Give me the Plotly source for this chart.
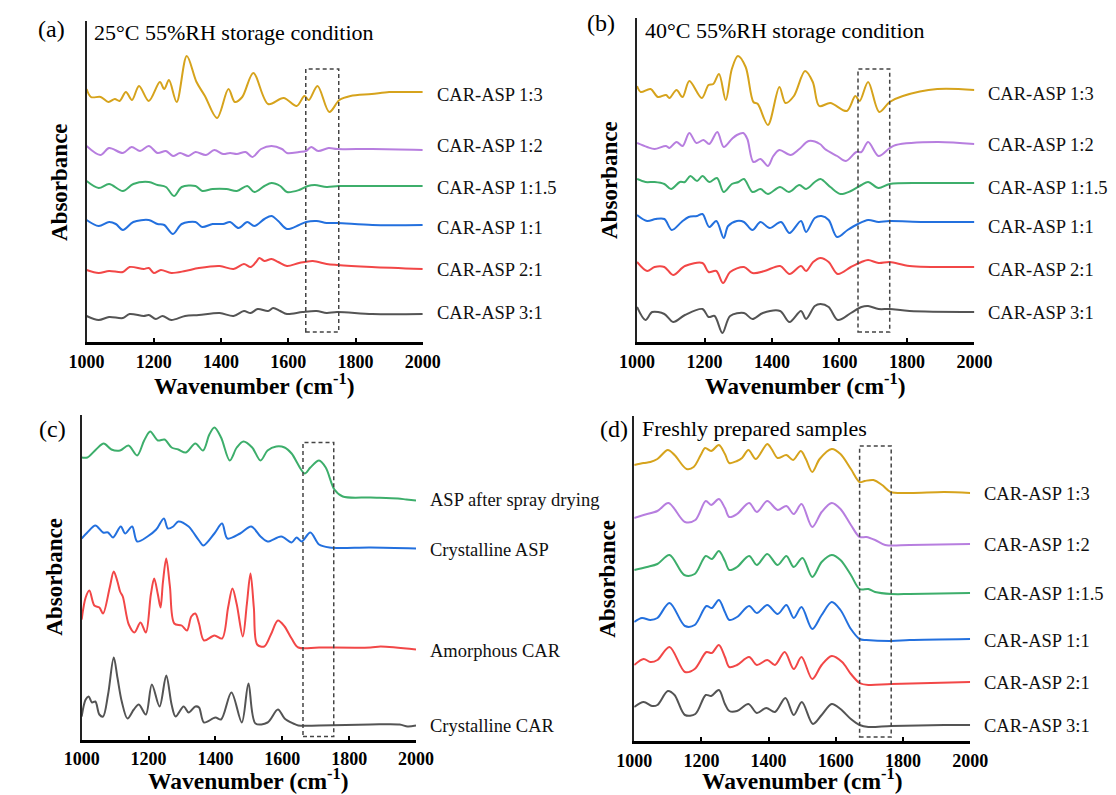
import plotly.graph_objects as go

# ---------------- data (wavenumber cm-1, relative absorbance offset) ----------------
# Panel (a) 25°C 55%RH
A_13_WN = [1000,1013,1042,1065,1084,1098,1117,1135,1156,1185,1218,1231,1245,1268,1298,1327,1352,1388,1422,1441,1463,1496,1540,1586,1625,1648,1661,1687,1722,1752,1785,1848,1900,1950,2000]
A_13_H = [253,245,245,240,243,241,250,242,256,241,260,253,262,240,286,260,246,224,253,240,245,269,238,244,236,246,242,256,230,242,246,248,250,250,250]
A_12_WN = [1000,1041,1067,1108,1134,1159,1185,1211,1236,1257,1278,1303,1324,1355,1380,1406,1427,1447,1473,1493,1519,1550,1581,1596,1632,1653,1668,1689,1720,1745,1850,2000]
A_12_H = [196,187,194,189,195,191,196,189,191,186,189,186,190,187,192,188,189,188,190,185,193,196,193,189,190,191,195,191,194,193,193,192]
A_115_WN = [1000,1036,1067,1108,1139,1185,1211,1236,1260,1283,1324,1344,1375,1416,1447,1478,1499,1529,1550,1576,1596,1632,1658,1679,1714,1750,1850,2000]
A_115_H = [161,154,158,151,158,160,157,155,146,155,156,151,153,153,151,156,150,156,159,156,150,152,156,157,155,156,156,156]
A_11_WN = [1000,1036,1067,1087,1108,1139,1185,1211,1231,1257,1283,1324,1344,1375,1406,1427,1452,1478,1499,1529,1550,1570,1596,1632,1653,1684,1714,1745,1850,2000]
A_11_H = [122,116,120,118,112,120,122,118,117,108,118,120,115,118,118,120,114,120,116,123,126,121,113,117,120,121,119,119,117,117]
A_21_WN = [1000,1036,1067,1108,1128,1170,1185,1200,1221,1252,1293,1334,1396,1437,1468,1488,1504,1514,1529,1550,1570,1596,1632,1673,1714,1745,1848,2000]
A_21_H = [72,69,71,70,75,73,74,69,72,69,71,74,76,73,78,75,80,84,81,83,80,76,79,81,78,77,75,73]
A_31_WN = [1000,1036,1067,1108,1128,1170,1185,1206,1226,1252,1293,1334,1396,1437,1468,1488,1509,1540,1555,1576,1596,1642,1684,1714,1745,1850,2000]
A_31_H = [26,22,25,24,28,26,27,23,26,22,26,27,29,26,31,29,33,31,34,31,28,30,31,29,30,28,28]

# Panel (b) 40°C 55%RH
B_13_WN = [1000,1011,1040,1062,1086,1096,1117,1135,1155,1192,1212,1226,1243,1263,1281,1299,1322,1345,1358,1388,1422,1440,1465,1498,1521,1540,1573,1622,1647,1660,1685,1718,1749,1788,1890,2000]
B_13_H = [256,250,253,245,247,244,252,245,261,244,257,258,268,242,273,286,275,240,238,217,255,239,246,271,260,236,239,231,246,241,260,230,240,246,253,252]
B_12_WN = [1000,1030,1052,1086,1096,1117,1135,1155,1176,1197,1214,1238,1257,1281,1296,1315,1327,1345,1366,1388,1404,1422,1455,1481,1509,1542,1557,1593,1619,1650,1665,1685,1716,1749,1767,1890,2000]
B_12_H = [199,195,193,196,194,200,196,209,199,202,198,210,195,203,207,209,203,180,183,176,186,192,187,193,201,198,193,186,181,190,190,200,186,194,197,200,198]
B_115_WN = [1000,1025,1052,1081,1101,1127,1142,1158,1178,1194,1214,1237,1257,1281,1301,1317,1342,1366,1388,1424,1450,1481,1501,1527,1544,1573,1603,1634,1665,1685,1716,1749,1850,2000]
B_115_H = [163,160,160,158,153,160,160,166,161,166,160,164,150,158,160,163,150,153,148,155,150,157,153,160,163,155,148,151,157,160,154,158,159,159]
B_11_WN = [1000,1030,1055,1081,1103,1132,1153,1178,1194,1214,1235,1257,1270,1296,1317,1342,1366,1393,1427,1452,1486,1501,1527,1547,1568,1593,1624,1655,1685,1716,1747,1850,2000]
B_11_H = [127,121,123,123,112,120,125,126,128,115,121,104,116,121,120,112,120,114,120,109,121,110,124,126,122,105,112,118,122,120,121,120,120]
B_21_WN = [1000,1030,1052,1081,1107,1142,1194,1212,1235,1255,1276,1317,1342,1378,1424,1452,1486,1501,1522,1544,1568,1595,1634,1665,1685,1716,1749,1808,2000]
B_21_H = [80,71,75,75,67,76,79,70,71,59,70,75,69,71,76,68,76,71,80,84,80,68,75,80,82,79,80,76,75]
B_31_WN = [1000,1025,1045,1081,1107,1142,1194,1212,1230,1253,1276,1317,1342,1373,1424,1452,1486,1501,1527,1544,1568,1595,1634,1665,1685,1716,1749,1808,2000]
B_31_H = [35,22,30,28,20,27,33,25,26,9,26,29,23,29,31,20,31,23,36,38,35,22,29,35,36,33,33,31,30]

# Panel (c) references
C_SD_WN = [1000,1017,1043,1066,1089,1115,1140,1166,1187,1205,1228,1248,1269,1289,1312,1340,1363,1382,1397,1417,1443,1464,1484,1510,1535,1556,1582,1607,1628,1667,1684,1710,1730,1756,1781,1864,1946,1971,2000]
C_SD_H = [282,282,290,296,290,289,294,284,299,308,299,300,292,290,287,296,289,305,312,302,279,292,298,292,279,289,293,292,286,266,272,279,272,250,243,242,241,240,239]
C_CA_WN = [1000,1017,1041,1064,1079,1094,1117,1130,1151,1166,1197,1223,1246,1258,1274,1289,1320,1332,1351,1364,1397,1420,1436,1474,1507,1535,1556,1597,1628,1643,1658,1684,1710,1741,1864,2000]
C_CA_H = [201,207,214,207,207,202,213,206,213,198,203,210,221,211,213,218,213,208,199,194,206,216,201,206,213,203,198,203,197,202,198,207,195,192,192,191]
C_AC_WN = [1000,1012,1023,1038,1053,1064,1084,1096,1107,1115,1123,1141,1158,1176,1192,1207,1217,1228,1236,1243,1253,1264,1277,1299,1315,1328,1340,1351,1366,1397,1420,1438,1451,1464,1482,1494,1505,1515,1525,1546,1566,1587,1607,1628,1648,1710,1864,1894,2000]
C_AC_H = [120,142,149,134,132,126,152,168,158,148,143,115,107,117,107,145,161,145,132,157,181,153,116,114,109,123,126,116,99,104,101,132,151,135,103,135,166,132,95,93,105,119,113,101,92,92,92,93,90]
C_CC_WN = [1000,1012,1021,1031,1041,1053,1064,1079,1096,1107,1120,1137,1156,1171,1192,1210,1233,1253,1269,1281,1305,1320,1340,1351,1366,1400,1417,1448,1479,1499,1520,1556,1587,1607,1633,1648,1710,1864,1951,1975,2000]
C_CC_H = [23,40,43,37,38,25,23,45,82,62,38,21,30,35,25,55,33,64,35,23,33,27,33,32,17,22,20,47,17,56,16,17,30,21,16,14,14,15,15,13,14]

# Panel (d) freshly prepared
D_13_WN = [1000,1028,1048,1069,1100,1120,1156,1177,1198,1211,1229,1252,1270,1283,1306,1321,1340,1362,1396,1409,1427,1453,1473,1496,1511,1530,1552,1588,1614,1645,1671,1686,1712,1738,1763,1820,1923,2000]
D_13_H = [276,278,279,282,291,286,272,274,286,293,290,296,287,278,280,283,291,282,297,292,283,286,281,290,282,269,282,292,287,272,259,260,261,256,249,248,249,248]
D_12_WN = [1000,1028,1069,1102,1151,1182,1213,1229,1252,1270,1283,1306,1342,1365,1396,1427,1453,1475,1498,1530,1558,1588,1614,1645,1671,1691,1717,1747,1820,2000]
D_12_H = [223,226,230,238,219,221,240,236,242,233,224,227,238,229,240,231,235,227,237,214,229,238,232,216,204,204,201,196,196,197]
D_115_WN = [1000,1038,1069,1105,1149,1180,1213,1231,1252,1270,1283,1306,1342,1365,1396,1427,1453,1475,1501,1530,1558,1588,1614,1645,1671,1697,1717,1766,1820,2000]
D_115_H = [171,174,177,186,166,167,185,182,190,180,171,174,185,176,187,176,185,174,183,164,179,186,181,166,152,152,149,147,147,148]
D_11_WN = [1000,1023,1048,1069,1105,1151,1180,1215,1231,1252,1270,1283,1306,1342,1365,1396,1427,1453,1475,1498,1530,1558,1588,1614,1645,1671,1691,1766,1820,2000]
D_11_H = [119,123,121,123,138,115,116,135,133,141,129,121,124,135,128,136,127,136,123,134,112,126,139,131,112,102,101,100,101,102]
D_21_WN = [1000,1028,1048,1069,1105,1151,1180,1215,1231,1252,1270,1283,1306,1342,1365,1396,1419,1448,1475,1498,1530,1558,1588,1619,1645,1671,1697,1766,2000]
D_21_H = [76,82,79,81,94,69,72,89,88,96,84,74,76,84,76,81,76,89,72,84,62,76,85,79,67,58,56,57,59]
D_31_WN = [1000,1028,1053,1069,1100,1120,1151,1182,1213,1229,1252,1270,1283,1306,1340,1365,1393,1419,1450,1475,1499,1532,1558,1588,1614,1645,1671,1697,1766,1923,2000]
D_31_H = [34,39,35,36,50,46,26,27,46,45,51,37,30,30,37,28,33,29,43,26,39,17,26,37,32,22,16,14,15,16,16]

RATIO_LABELS = ["CAR-ASP 1:3", "CAR-ASP 1:2", "CAR-ASP 1:1.5", "CAR-ASP 1:1", "CAR-ASP 2:1", "CAR-ASP 3:1"]
C_LABELS = ["ASP after spray drying", "Crystalline ASP", "Amorphous CAR", "Crystalline CAR"]
PANEL_TITLES = ["25°C 55%RH storage condition", "40°C 55%RH storage condition", "", "Freshly prepared samples"]
X_TICKS = [1000, 1200, 1400, 1600, 1800, 2000]

# label heights (same units as traces)
A_LABEL_H = [247, 196, 154, 114, 72, 29]
B_LABEL_H = [248, 197, 154, 115, 72, 29]
C_LABEL_H = [240, 190, 89, 14]
D_LABEL_H = [247, 196, 147, 100, 58, 15]
# dashed boxes: [x0, x1, y0, y1]
BOXES = [[1652, 1750, 10, 273], [1655, 1749, 10, 273], [1662, 1754, 3, 297], [1671, 1765, 4, 295]]

# ---------------- styling ----------------
GOLD, PURPLE, GREEN, BLUE, RED, GRAY = "#D6A31C", "#B77EDF", "#3DAE6B", "#2370DE", "#F24747", "#545454"
RATIO_COLORS = [GOLD, PURPLE, GREEN, BLUE, RED, GRAY]
C_COLORS = [GREEN, BLUE, RED, GRAY]
SERIF = "Liberation Serif, Times New Roman, serif"
W, H = 1116, 795

def px(x, y):
    return x / W, 1 - y / H

# panel geometry in pixels: x0, x1, ytop, ybottom, title offset
GEOM = [(62.6, 410.0, 13.0, 334.0, 42), (631.4, 980.0, 10.0, 334.0, 42),
        (57.5, 403.0, 406.7, 731.5, 39), (628.5, 975.6, 408.0, 733.0, 38)]

fig = go.Figure()

panels = [
    ([(A_13_WN, A_13_H), (A_12_WN, A_12_H), (A_115_WN, A_115_H), (A_11_WN, A_11_H), (A_21_WN, A_21_H), (A_31_WN, A_31_H)], RATIO_COLORS, RATIO_LABELS, A_LABEL_H),
    ([(B_13_WN, B_13_H), (B_12_WN, B_12_H), (B_115_WN, B_115_H), (B_11_WN, B_11_H), (B_21_WN, B_21_H), (B_31_WN, B_31_H)], RATIO_COLORS, RATIO_LABELS, B_LABEL_H),
    ([(C_SD_WN, C_SD_H), (C_CA_WN, C_CA_H), (C_AC_WN, C_AC_H), (C_CC_WN, C_CC_H)], C_COLORS, C_LABELS, C_LABEL_H),
    ([(D_13_WN, D_13_H), (D_12_WN, D_12_H), (D_115_WN, D_115_H), (D_11_WN, D_11_H), (D_21_WN, D_21_H), (D_31_WN, D_31_H)], RATIO_COLORS, RATIO_LABELS, D_LABEL_H),
]

annotations = []
shapes = []
layout = {}
for i, (series, colors, labels, label_h) in enumerate(panels):
    n = "" if i == 0 else str(i + 1)
    xr, yr = "x" + n, "y" + n
    x0, x1, yt, yb, toff = GEOM[i]
    for (wn, h), c, lab in zip(series, colors, labels):
        fig.add_trace(go.Scatter(x=wn, y=h, mode="lines", name=lab, xaxis=xr, yaxis=yr,
                                 line=dict(color=c, width=2, shape="spline", smoothing=0.9),
                                 showlegend=False, hoverinfo="x+y+name"))
    for lab, lh in zip(labels, label_h):
        annotations.append(dict(x=2000, y=lh, xref=xr, yref=yr, text=lab, showarrow=False,
                                xanchor="left", yanchor="middle", xshift=12,
                                font=dict(family=SERIF, size=18.5, color="#111")))
    bx = BOXES[i]
    shapes.append(dict(type="rect", xref=xr, yref=yr, x0=bx[0], x1=bx[1], y0=bx[2], y1=bx[3],
                       line=dict(color="#444", width=1.5, dash="4px,3px")))
    layout["xaxis" + n] = dict(domain=[x0 / W, x1 / W], anchor=yr, range=[1000, 2000],
                               tickvals=X_TICKS, ticks="inside", ticklen=4, tickwidth=1.5,
                               tickcolor="black", showline=True, linewidth=3, linecolor="black",
                               showgrid=False, zeroline=False, ticklabelstandoff=1,
                               tickfont=dict(family=SERIF, size=18, color="black", weight="bold"))
    layout["yaxis" + n] = dict(domain=[1 - yb / H, 1 - yt / H], anchor=xr, range=[0, yb - yt],
                               showline=True, linewidth=2, linecolor="#222", showticklabels=False,
                               ticks="", showgrid=False, zeroline=False)
    # axis titles
    cx = (x0 + x1) / 2
    ax, ay = px(cx, yb + toff)
    annotations.append(dict(x=ax, y=ay, xref="paper", yref="paper", showarrow=False,
                            text="<b>Wavenumber (cm<sup>-1</sup>)</b>", xanchor="center", yanchor="middle",
                            font=dict(family=SERIF, size=23.5, color="black")))
    ax, ay = px(x0 - 28, (yt + yb) / 2)
    annotations.append(dict(x=ax, y=ay, xref="paper", yref="paper", showarrow=False, textangle=-90,
                            text="<b>Absorbance</b>", xanchor="center", yanchor="middle",
                            font=dict(family=SERIF, size=23, color="black")))

# panel letters and titles
LETTERS = [("(a)", 26, 21), ("(b)", 594, 15), ("(c)", 27, 421), ("(d)", 608, 421)]
for t, x, y in LETTERS:
    ax, ay = px(x, y)
    annotations.append(dict(x=ax, y=ay, xref="paper", yref="paper", text=t, showarrow=False,
                            xanchor="center", yanchor="middle", font=dict(family=SERIF, size=24, color="black")))
TITLE_POS = [(68, 25), (638, 23), None, (634.6, 420)]
for t, pos in zip(PANEL_TITLES, TITLE_POS):
    if pos is None:
        continue
    ax, ay = px(*pos)
    annotations.append(dict(x=ax, y=ay, xref="paper", yref="paper", text=t, showarrow=False,
                            xanchor="left", yanchor="middle", font=dict(family=SERIF, size=22, color="black")))

fig.update_layout(width=W, height=H, margin=dict(l=0, r=0, t=0, b=0),
                  paper_bgcolor="white", plot_bgcolor="white",
                  annotations=annotations, shapes=shapes, **layout)

fig.write_html("out.html")
